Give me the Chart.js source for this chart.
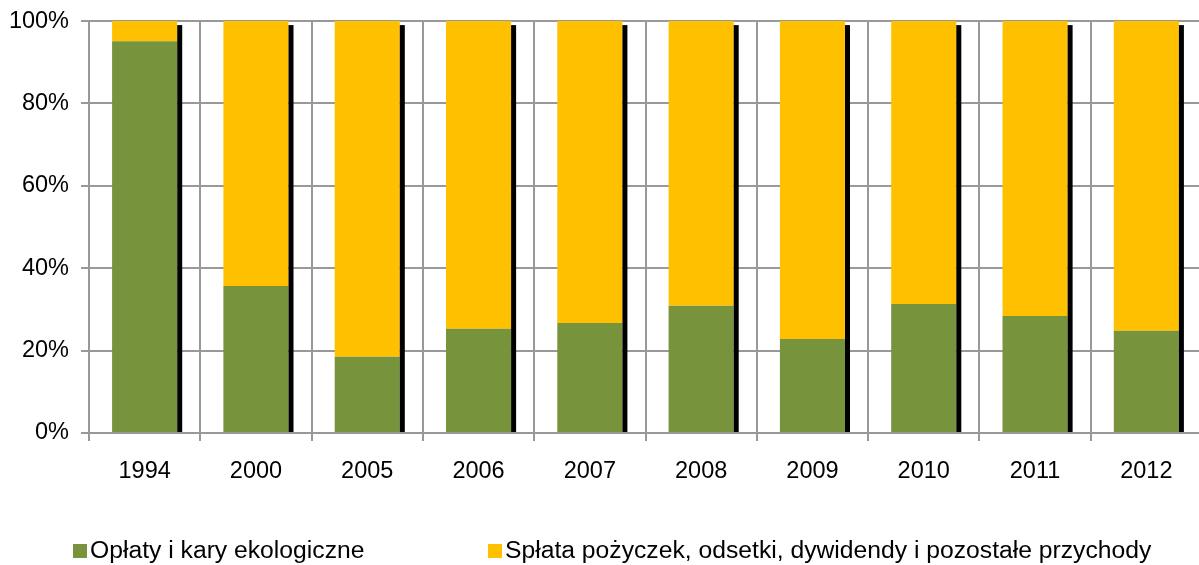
<!DOCTYPE html>
<html>
<head>
<meta charset="utf-8">
<script src="https://cdn.jsdelivr.net/npm/chart.js@4/dist/chart.umd.min.js"></script>
<style>
  html, body { margin: 0; padding: 0; background: #fff; overflow: hidden; }
  #wrap { position: relative; width: 1199px; height: 565px; overflow: hidden; }
  canvas { position: absolute; left: 0; top: -5px; }
  .leg { position: absolute; top: 535px; font: 24.7px 'Liberation Sans', Arial, sans-serif; color: #000; white-space: nowrap; line-height: 30px; }
  .leg span { display: inline-block; width: 14px; height: 14px; margin-right: 3px; vertical-align: 0px; }
</style>
</head>
<body>
<div id="wrap">
  <canvas id="chart" width="1210" height="570"></canvas>
  <div class="leg" style="left:73px"><span style="background:#77933C"></span>Opłaty i kary ekologiczne</div>
  <div class="leg" style="left:488px"><span style="background:#FFC000"></span>Spłata pożyczek, odsetki, dywidendy i pozostałe przychody</div>
</div>
<script>
// dane (udział w %)
const lata = ['1994', '2000', '2005', '2006', '2007', '2008', '2009', '2010', '2011', '2012'];
const oplaty = [95.1, 35.7, 18.5, 25.3, 26.7, 30.9, 22.8, 31.3, 28.4, 24.8];
const splaty = [4.9, 64.3, 81.5, 74.7, 73.3, 69.1, 77.2, 68.7, 71.6, 75.2];
const yTicks = [0, 20, 40, 60, 80, 100];

const gridColor = '#999999';
const fontFam = "'Liberation Sans', Arial, sans-serif";

// czarny "cień" po prawej stronie każdego słupka
const cienPlugin = {
    id: 'cien',
    afterDatasetsDraw(chart) {
        const ctx = chart.ctx;
        const dolne = chart.getDatasetMeta(0).data;
        const gorne = chart.getDatasetMeta(1).data;
        ctx.save();
        ctx.fillStyle = '#000';
        for (let i = 0; i < dolne.length; i++) {
            const d = dolne[i];
            const g = gorne[i];
            const prawa = d.x + d.width / 2;
            const gora = Math.min(g.y, d.y) + 4;
            ctx.fillRect(prawa, gora, 5, d.base - gora);
        }
        ctx.restore();
    }
};

const ctx = document.getElementById('chart').getContext('2d');
new Chart(ctx, {
    type: 'bar',
    data: {
        labels: lata,
        datasets: [{
            label: 'Opłaty i kary ekologiczne',
            data: oplaty,
            backgroundColor: '#77933C',
            barPercentage: 0.585,
            categoryPercentage: 1.0
        }, {
            label: 'Spłata pożyczek, odsetki, dywidendy i pozostałe przychody',
            data: splaty,
            backgroundColor: '#FFC000',
            barPercentage: 0.585,
            categoryPercentage: 1.0
        }]
    },
    options: {
        responsive: false,
        animation: false,
        layout: { padding: { top: 16, right: 8, bottom: 0, left: 0 } },
        plugins: {
            legend: { display: false },
            tooltip: { enabled: false }
        },
        scales: {
            x: {
                stacked: true,
                grid: { color: gridColor, lineWidth: 2, tickLength: 8, offset: true },
                border: { color: gridColor, width: 2 },
                ticks: {
                    color: '#000',
                    padding: 16,
                    font: { family: fontFam, size: 23.5 }
                },
                afterFit(scale) { scale.height = 132; }
            },
            y: {
                stacked: true,
                min: 0,
                max: 100,
                afterBuildTicks(scale) { scale.ticks = yTicks.map(v => ({ value: v })); },
                grid: { color: gridColor, lineWidth: 2, tickLength: 8 },
                border: { color: gridColor, width: 2 },
                ticks: {
                    color: '#000',
                    padding: 12,
                    font: { family: fontFam, size: 23.5 },
                    callback: v => v + '%'
                },
                afterFit(scale) { scale.width = 89; }
            }
        }
    },
    plugins: [cienPlugin]
});
</script>
</body>
</html>
